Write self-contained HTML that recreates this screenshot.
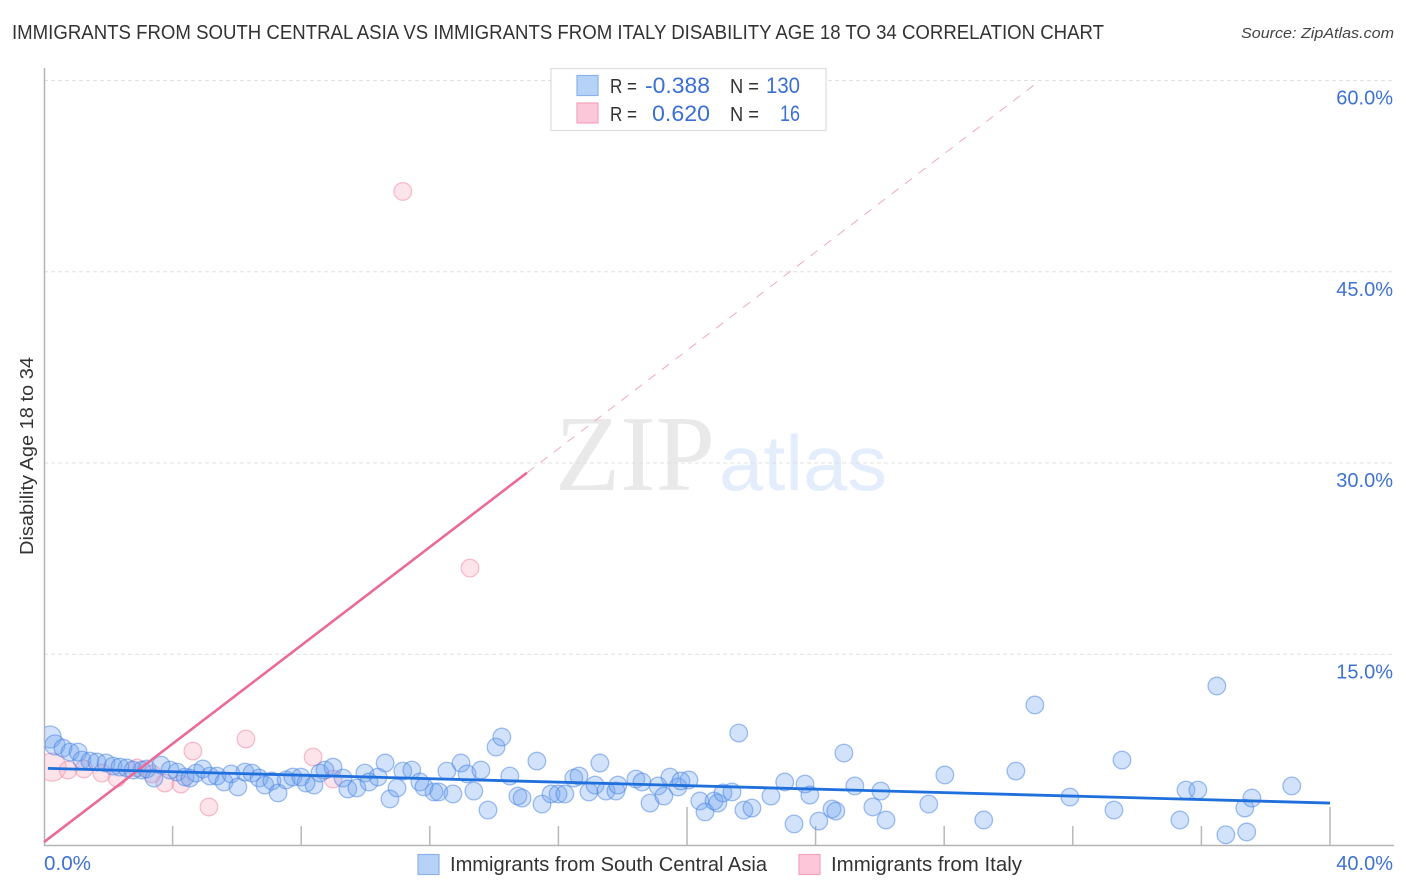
<!DOCTYPE html>
<html lang="en">
<head>
<meta charset="utf-8">
<title>Immigrants from South Central Asia vs Immigrants from Italy Disability Age 18 to 34 Correlation Chart</title>
<style>
html,body{margin:0;padding:0;background:#fff;}
svg{display:block;font-family:"Liberation Sans",sans-serif;}
</style>
</head>
<body>
<svg id="chart" xmlns="http://www.w3.org/2000/svg" width="1406" height="892" viewBox="0 0 1406 892">
  <defs>
    <clipPath id="plot-clip"><rect x="45" y="60" width="1350" height="785"/></clipPath>
  </defs>
  <rect width="1406" height="892" fill="#ffffff"/>
  <text x="12" y="39" font-size="20" fill="#333333" textLength="1092" lengthAdjust="spacingAndGlyphs">IMMIGRANTS FROM SOUTH CENTRAL ASIA VS IMMIGRANTS FROM ITALY DISABILITY AGE 18 TO 34 CORRELATION CHART</text>
  <text x="1241" y="38" font-size="15" font-style="italic" fill="#444444" textLength="153" lengthAdjust="spacingAndGlyphs">Source: ZipAtlas.com</text>

  <g>
    <text x="555" y="490" font-size="108" fill="#e9e9e9" font-family="'Liberation Serif',serif" textLength="160" lengthAdjust="spacingAndGlyphs">ZIP</text>
    <text x="719" y="490" font-size="78" fill="#e3edfb" textLength="168" lengthAdjust="spacingAndGlyphs">atlas</text>
  </g>

  <g id="grid"></g>
  <g id="axes"></g>
  <g id="pink-points" clip-path="url(#plot-clip)"></g>
  <g id="blue-points" clip-path="url(#plot-clip)"></g>
  <g id="trends"></g>
  <g id="labels"></g>

  <text transform="translate(33,456) rotate(-90)" text-anchor="middle" font-size="18" fill="#333333" textLength="198" lengthAdjust="spacingAndGlyphs">Disability Age 18 to 34</text>

  <g>
    <rect x="551" y="68.5" width="275" height="62" fill="#ffffff" stroke="#dddddd" stroke-width="1.2"/>
    <rect x="577" y="75.5" width="21" height="20" fill="#b7d2f7" stroke="#8cb2ea" stroke-width="1.2"/>
    <rect x="577" y="103" width="21" height="20" fill="#fcc7d8" stroke="#f3a3bd" stroke-width="1.2"/>
    <g font-size="20" fill="#333333">
      <text x="610" y="93" textLength="27" lengthAdjust="spacingAndGlyphs">R =</text>
      <text x="610" y="121" textLength="27" lengthAdjust="spacingAndGlyphs">R =</text>
      <text x="730" y="93" textLength="29" lengthAdjust="spacingAndGlyphs">N =</text>
      <text x="730" y="121" textLength="29" lengthAdjust="spacingAndGlyphs">N =</text>
    </g>
    <g font-size="22" fill="#3a6fd4">
      <text x="645" y="93" textLength="65" lengthAdjust="spacingAndGlyphs">-0.388</text>
      <text x="652" y="121" textLength="58" lengthAdjust="spacingAndGlyphs">0.620</text>
      <text x="766" y="93" textLength="34" lengthAdjust="spacingAndGlyphs">130</text>
      <text x="780" y="121" textLength="20" lengthAdjust="spacingAndGlyphs">16</text>
    </g>
  </g>

  <g>
    <rect x="418" y="854.5" width="21" height="20" fill="#b7d2f7" stroke="#8cb2ea" stroke-width="1.2"/>
    <text x="450" y="871" font-size="20" fill="#333333" textLength="317" lengthAdjust="spacingAndGlyphs">Immigrants from South Central Asia</text>
    <rect x="799" y="854.5" width="21" height="20" fill="#fcc7d8" stroke="#f3a3bd" stroke-width="1.2"/>
    <text x="831" y="871" font-size="20" fill="#333333" textLength="191" lengthAdjust="spacingAndGlyphs">Immigrants from Italy</text>
  </g>
</svg>

<script>
const yTickValues = [15, 30, 45, 60];
const yTickLabels = ["15.0%", "30.0%", "45.0%", "60.0%"];
const xTickValues = [4, 8, 12, 16, 20, 24, 28, 32, 36, 40];
const xMajorTicks = [20, 40];
const xEndLabels = ["0.0%", "40.0%"];

const asiaX = [0.19,0.34,0.59,0.81,1.06,1.18,1.43,1.65,1.93,2.15,2.36,2.58,2.77,3.05,3.20,3.42,3.64,3.92,4.14,4.39,4.54,4.73,4.94,5.16,5.38,5.60,5.82,6.03,6.25,6.47,6.69,6.87,7.09,7.28,7.53,7.74,7.99,8.15,8.40,8.58,8.74,8.99,9.30,9.45,9.73,9.98,10.11,10.39,10.61,10.76,10.98,11.16,11.44,11.69,11.82,12.13,12.28,12.72,12.53,12.97,13.16,13.37,13.59,13.81,14.06,14.24,14.49,14.74,14.87,15.33,15.49,15.77,15.99,16.20,16.48,16.64,16.95,17.14,17.29,17.48,17.79,17.85,18.41,18.60,18.85,19.10,19.28,19.47,19.72,19.81,20.06,20.40,20.56,20.84,20.96,21.12,21.40,21.61,21.77,22.02,22.61,23.04,23.33,23.67,23.82,24.10,24.51,24.63,24.88,25.22,25.78,26.03,26.19,27.52,28.02,29.23,30.23,30.82,31.91,33.28,33.53,35.33,35.52,35.89,36.48,36.76,37.41,37.35,37.57,38.81];
const asiaY = [8.51,7.88,7.64,7.33,7.33,6.70,6.62,6.55,6.47,6.23,6.15,6.08,5.92,5.92,6.00,5.29,6.31,5.92,5.76,5.37,5.29,5.68,6.00,5.45,5.45,4.98,5.61,4.59,5.76,5.68,5.29,4.74,5.06,4.12,5.14,5.37,5.37,4.90,4.74,5.68,5.92,6.15,5.29,4.43,4.51,5.68,4.98,5.37,6.47,3.65,4.51,5.84,5.92,4.98,4.59,4.20,4.20,4.04,5.84,6.47,5.61,4.27,5.92,2.78,7.72,8.51,5.45,3.88,3.72,6.62,3.25,4.04,4.04,4.04,5.29,5.45,4.20,4.74,6.47,4.27,4.27,4.74,5.21,4.98,3.33,4.67,3.88,5.37,4.59,5.06,5.14,3.49,2.63,3.49,3.33,4.12,4.20,8.82,2.78,2.94,3.88,4.98,1.69,4.82,3.96,1.92,2.86,2.70,7.25,4.67,3.02,4.27,2.00,3.25,5.53,2.00,5.84,11.02,3.80,2.78,6.70,2.00,4.35,4.35,12.51,0.84,1.06,2.94,3.72,4.67];
const italyX = [0.25,0.75,1.24,1.80,2.27,2.89,3.36,3.76,4.26,4.63,5.13,6.28,8.37,8.99,11.16,13.25];
const italyY = [6.15,5.92,6.00,5.68,5.29,6.08,5.61,4.90,4.82,7.41,3.02,8.35,6.94,5.21,51.30,21.76];

const asiaTrendX = [0.12, 40];
const asiaTrendY = [6.05, 3.33];
const italyTrendX = [0, 30.98];
const italyTrendY = [0.27, 60];
const italySolidEnd = 15.02;

const NS = "http://www.w3.org/2000/svg";
const sx = v => 44 + v * 32.15;
const sy = v => 845.5 - v * 12.75;
const italyLineAt = x => italyTrendY[0] + (x - italyTrendX[0]) * (italyTrendY[1] - italyTrendY[0]) / (italyTrendX[1] - italyTrendX[0]);

function make(tag, attrs, parent) {
  const el = document.createElementNS(NS, tag);
  for (const k in attrs) el.setAttribute(k, attrs[k]);
  parent.appendChild(el);
  return el;
}

const grid = document.getElementById("grid");
const axes = document.getElementById("axes");
const labels = document.getElementById("labels");
const pinkLayer = document.getElementById("pink-points");
const blueLayer = document.getElementById("blue-points");
const trends = document.getElementById("trends");

yTickValues.forEach((v, i) => {
  const line = make("line", {x1: 44, x2: 1394, y1: sy(v), y2: sy(v), stroke: "#e0e0e0", "stroke-width": 1, "stroke-dasharray": "4 3"}, grid);
  
  
  const t = make("text", {x: 1393, y: sy(v) + 24, "text-anchor": "end", "font-size": 20, fill: "#3f72d3"}, labels);
  t.textContent = yTickLabels[i];
  
  
});

const yAxis = make("line", {x1: 44.5, x2: 44.5, y1: 68, y2: 846, stroke: "#b4b4b4", "stroke-width": 1.5}, axes);


const xAxis = make("line", {x1: 44, x2: 1394, y1: 845.5, y2: 845.5, stroke: "#b4b4b4", "stroke-width": 1.5}, axes);



xTickValues.forEach(v => {
  const top = xMajorTicks.includes(v) ? 807 : 826;
  const tick = make("line", {x1: sx(v), x2: sx(v), y1: top, y2: 845, stroke: "#b8b8b8", "stroke-width": 1.5}, axes);
  
  
});

const xLeft = make("text", {x: 44, y: 870, "font-size": 20, fill: "#3f72d3", textLength: 47, lengthAdjust: "spacingAndGlyphs"}, labels);
xLeft.textContent = xEndLabels[0];


const xRight = make("text", {x: 1393, y: 870, "text-anchor": "end", "font-size": 20, fill: "#3f72d3"}, labels);
xRight.textContent = xEndLabels[1];



italyX.forEach((x, i) => {
  const c = make("circle", {cx: sx(x), cy: sy(italyY[i]), r: i === 0 ? 14 : 8.8, fill: "rgba(250,170,192,0.32)", stroke: "rgba(238,140,170,0.55)", "stroke-width": 1.3}, pinkLayer);
  
  
});

asiaX.forEach((x, i) => {
  const c = make("circle", {cx: sx(x), cy: sy(asiaY[i]), r: i === 0 ? 11 : (i === 1 ? 10 : 8.8), fill: "rgba(105,160,240,0.3)", stroke: "rgba(70,130,228,0.5)", "stroke-width": 1.3}, blueLayer);
  
  
});

const italyDash = make("line", {x1: sx(italySolidEnd), y1: sy(italyLineAt(italySolidEnd)), x2: sx(italyTrendX[1]), y2: sy(italyTrendY[1]), stroke: "#f0a9c1", "stroke-width": 1, "stroke-dasharray": "9 8"}, trends);


const italySolid = make("line", {x1: sx(italyTrendX[0]), y1: sy(italyTrendY[0]), x2: sx(italySolidEnd), y2: sy(italyLineAt(italySolidEnd)), stroke: "#e96b98", "stroke-width": 2.6}, trends);


const asiaTrend = make("line", {x1: sx(asiaTrendX[0]), y1: sy(asiaTrendY[0]), x2: sx(asiaTrendX[1]), y2: sy(asiaTrendY[1]), stroke: "#1f6fdc", "stroke-width": 2.8}, trends);


</script>
</body>
</html>
